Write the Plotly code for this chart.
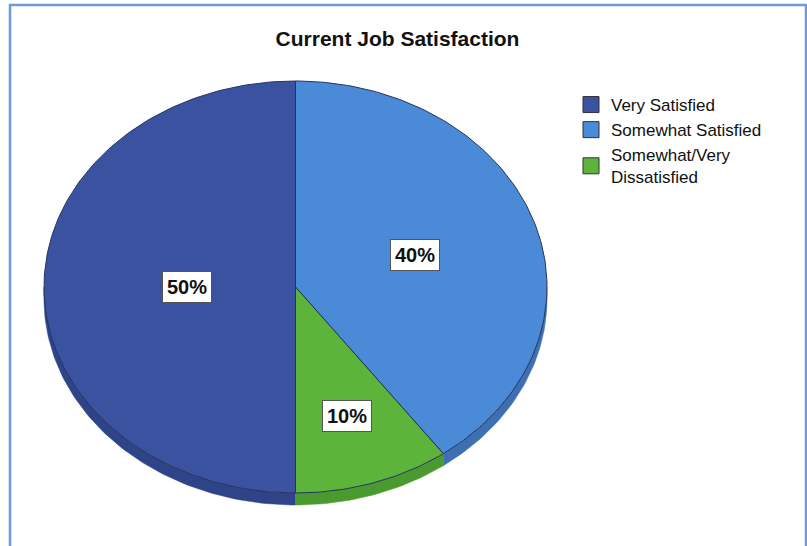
import numpy as np
import plotly.graph_objects as go

# ---- data ----
categories = ["Very Satisfied", "Somewhat Satisfied", "Somewhat/Very<br>Dissatisfied"]
values = [50, 40, 10]
pct_labels = ["50%", "40%", "10%"]

# ---- style ----
top_colors = ["#3a52a0", "#4b8ad6", "#5cb43b"]
side_colors = ["#2f4488", "#3c70b3", "#4b9a2f"]
label_radius = [0.43, 0.5, 0.66]
FONT = "Arial, Liberation Sans, sans-serif"

W, H = 807, 546
cx, cy, rx, ry, depth = 295.5, 287, 251.5, 206, 12
start_angle = 180.0  # clockwise from top


def pt(theta_deg, dy=0.0):
    t = np.radians(theta_deg)
    return cx + rx * np.sin(t), cy - ry * np.cos(t) + dy


fig = go.Figure()

total = float(sum(values))
angles = []
a = start_angle
for v in values:
    span = 360.0 * v / total
    angles.append((a, a + span))
    a += span

# side (3D depth) for the lower visible half: theta in [90, 270] (mod 360)
for (a0, a1), col in zip(angles, side_colors):
    for shift in (0, 360, -360):
        lo = max(a0 + shift, 90)
        hi = min(a1 + shift, 270)
        if hi > lo:
            th = np.linspace(lo, hi, max(2, int(hi - lo) + 1))
            xs_t, ys_t = pt(th)
            xs_b, ys_b = pt(th[::-1], depth)
            xs = np.concatenate([xs_t, xs_b, xs_t[:1]])
            ys = np.concatenate([ys_t, ys_b, ys_t[:1]])
            fig.add_trace(go.Scatter(x=xs, y=ys, mode="lines", fill="toself",
                                     fillcolor=col, line=dict(color=col, width=0.5),
                                     hoverinfo="skip", showlegend=False))

# top faces
for (a0, a1), col, name in zip(angles, top_colors, categories):
    th = np.linspace(a0, a1, max(2, int(a1 - a0) + 1))
    xs, ys = pt(th)
    xs = np.concatenate([[cx], xs, [cx]])
    ys = np.concatenate([[cy], ys, [cy]])
    fig.add_trace(go.Scatter(x=xs, y=ys, mode="lines", fill="toself",
                             fillcolor=col, line=dict(color="#26335e", width=1),
                             hoverinfo="skip", showlegend=False))

# legend entries
for i, (col, name) in enumerate(zip(top_colors, categories)):
    fig.add_trace(go.Scatter(x=[None], y=[None], mode="markers", name=name,
                             legendgroup=f"g{i}",
                             marker=dict(symbol="square", size=16, color=col,
                                         line=dict(color="#333333", width=1))))

# percentage labels
for (a0, a1), lab, k in zip(angles, pct_labels, label_radius):
    mid = (a0 + a1) / 2.0
    t = np.radians(mid)
    lx = cx + k * rx * np.sin(t)
    ly = cy - k * ry * np.cos(t)
    fig.add_annotation(x=lx, y=ly, text=f"<b>{lab}</b>", showarrow=False,
                       font=dict(family=FONT, size=20, color="#111111"),
                       bgcolor="white", bordercolor="#555555", borderwidth=1,
                       borderpad=4)

fig.update_layout(
    width=W, height=H, autosize=False,
    margin=dict(l=0, r=0, t=0, b=0),
    paper_bgcolor="white", plot_bgcolor="white",
    xaxis=dict(range=[0, W], visible=False, fixedrange=True),
    yaxis=dict(range=[H, 0], visible=False, fixedrange=True),
    title=dict(text="<b>Current Job Satisfaction</b>", x=397.5 / W, xanchor="center",
               y=1 - 39 / H, yanchor="middle",
               font=dict(family=FONT, size=21, color="#111111")),
    legend=dict(x=571 / W, y=1 - 87 / H, xanchor="left", yanchor="top",
                bgcolor="rgba(0,0,0,0)", tracegroupgap=0, itemwidth=30,
                font=dict(family=FONT, size=17, color="#111111")),
    shapes=[dict(type="rect", xref="x", yref="y", x0=10, x1=806, y0=5, y1=560,
                 line=dict(color="#6d9ad8", width=2.5), fillcolor="rgba(0,0,0,0)",
                 layer="below")],
)

fig.write_html("out.html")
